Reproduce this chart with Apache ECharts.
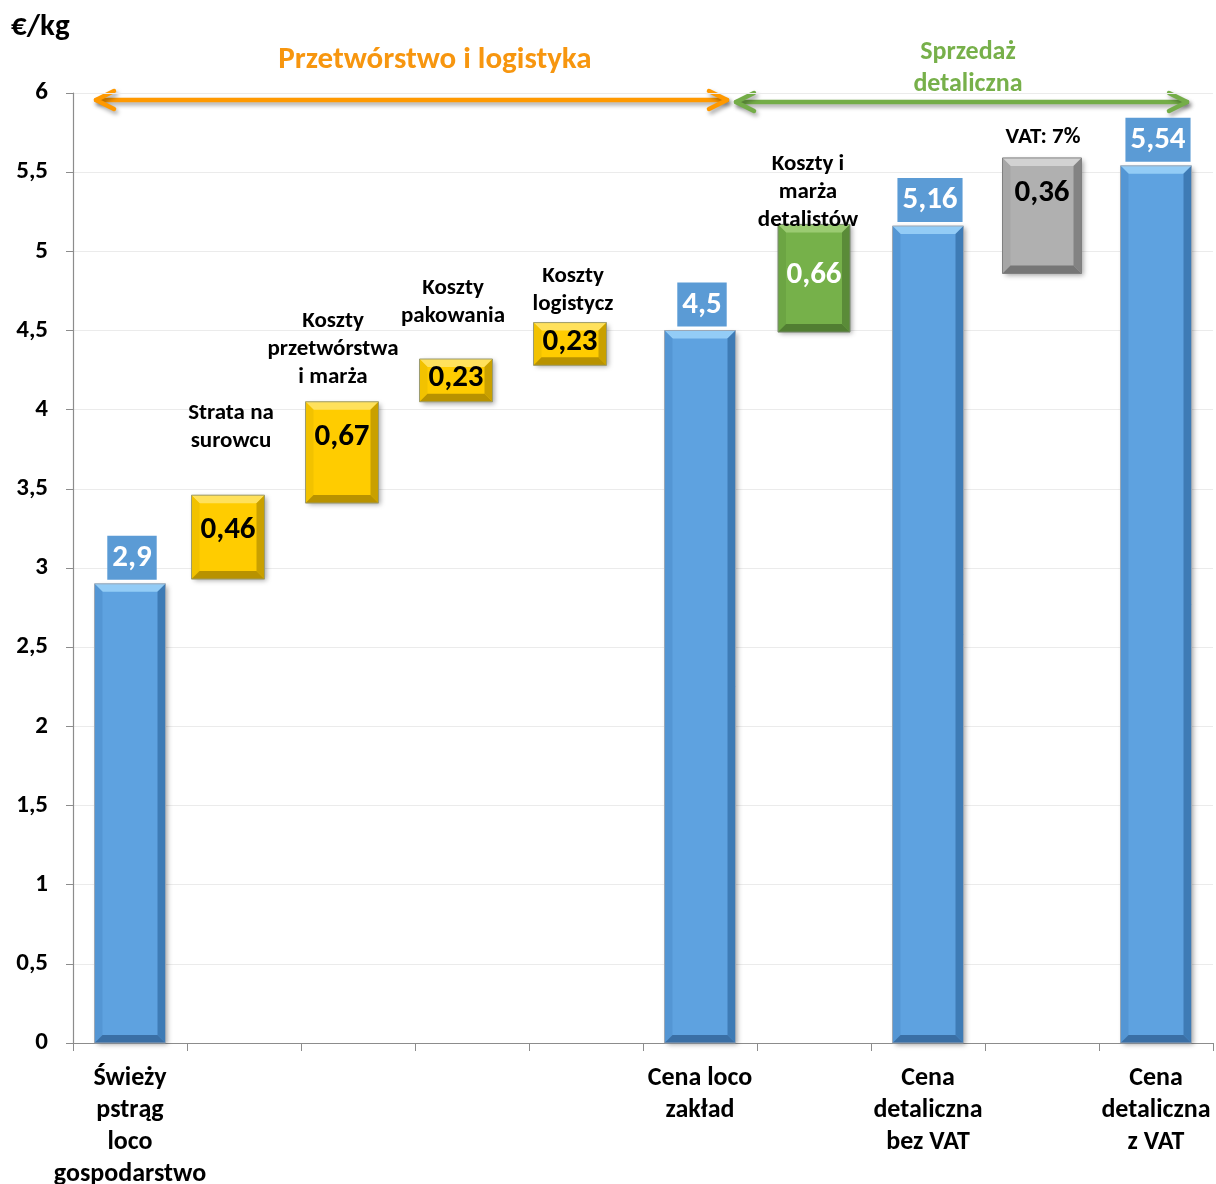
<!DOCTYPE html>
<html>
<head>
<meta charset="utf-8">
<script src="https://cdn.jsdelivr.net/npm/echarts@6/dist/echarts.min.js"></script>
<style>
html,body{margin:0;padding:0;background:#fff;}
#chart{width:1216px;height:1184px;}
</style>
</head>
<body>
<div id="chart"></div>
<script>
// ---- data ----
const categories = ['Świeży\npstrąg\nloco\ngospodarstwo', '', '', '', '', 'Cena loco\nzakład', '', 'Cena\ndetaliczna\nbez VAT', '', 'Cena\ndetaliczna\nz VAT'];
const totalIdx = [0, 5, 7, 9];
const totalValues = [2.9, 4.5, 5.16, 5.54];
const stepIdx = [1, 2, 3, 4];
const stepLabels = ['0,46', '0,67', '0,23', '0,23'];
const stepLow = [2.93, 3.41, 4.05, 4.28];
const stepHigh = [3.46, 4.05, 4.32, 4.55];
const retailIdx = [6, 8];
const retailLabels = ['0,66', '0,36'];
const retailLow = [4.49, 4.86];
const retailHigh = [5.17, 5.59];
const stepNotes = ['Strata na\nsurowcu', 'Koszty\nprzetwórstwa\ni marża', 'Koszty\npakowania', 'Koszty\nlogistycz'];
const retailNotes = ['Koszty i\nmarża\ndetalistów', 'VAT: 7%'];
const yMin = 0, yMax = 6, yStep = 0.5;

const FONT = 'Carlito, Lato, "Open Sans", sans-serif';

const palettes = {
  blue:   {face:'#5EA2E0', top:'#93CCF6', left:'#5496D4', right:'#3E7BB5', bottom:'#3A6FA5', edge:'#9AA7B5', text:'#fff'},
  yellow: {face:'#FFCC00', top:'#FFE15C', left:'#F2C200', right:'#C9A000', bottom:'#B89200', edge:'#9C9C70', text:'#000'},
  green:  {face:'#76B14A', top:'#9BCB72', left:'#6CA543', right:'#5A8B38', bottom:'#517E32', edge:'#7B8A70', text:'#fff'},
  gray:   {face:'#B0B0B0', top:'#D2D2D2', left:'#A6A6A6', right:'#838383', bottom:'#767676', edge:'#808080', text:'#000'}
};

function bevelBox(api, pal, width, bev, labelMode, labelText) {
  const i = api.value(0);
  const lo = api.value(1), hi = api.value(2);
  const pt = api.coord([i, hi]);
  const pb = api.coord([i, lo]);
  const w = width;
  const x = pt[0] - w / 2, y = pt[1], h = pb[1] - pt[1];
  const b = Math.min(bev, h / 3);
  const ch = [
    {type:'rect', shape:{x, y, width:w, height:h}, style:{fill:pal.face, shadowBlur:5, shadowOffsetX:2, shadowOffsetY:2, shadowColor:'rgba(0,0,0,0.35)'}},
    {type:'polygon', shape:{points:[[x,y],[x+w,y],[x+w-b,y+b],[x+b,y+b]]}, style:{fill:pal.top}},
    {type:'polygon', shape:{points:[[x,y],[x+b,y+b],[x+b,y+h-b],[x,y+h]]}, style:{fill:pal.left}},
    {type:'polygon', shape:{points:[[x+w,y],[x+w,y+h],[x+w-b,y+h-b],[x+w-b,y+b]]}, style:{fill:pal.right}},
    {type:'polygon', shape:{points:[[x,y+h],[x+b,y+h-b],[x+w-b,y+h-b],[x+w,y+h]]}, style:{fill:pal.bottom}},
    {type:'rect', shape:{x, y, width:w, height:h}, style:{fill:'none', stroke:pal.edge, lineWidth:1}}
  ];
  if (labelMode === 'above') {
    ch.push({type:'text', z2:10, style:{text:labelText, x:pt[0] + 2, y:y - 4, align:'center', verticalAlign:'bottom',
      fill:'#fff', font:'bold 31px ' + FONT, backgroundColor:'#5B9BD5', padding:[7, 5, 6, 5]}});
  } else {
    const ty = labelMode === 'center' ? y + h / 2 - 3 : y + Math.min(h / 2, 37) - 2;
    ch.push({type:'text', z2:10, style:{text:labelText, x:pt[0], y:ty, align:'center', verticalAlign:'middle',
      fill:pal.text, font:'bold 31px ' + FONT}});
  }
  return {type:'group', children:ch};
}

const totalData = totalIdx.map((c, k) => [c, 0, totalValues[k], String(totalValues[k]).replace('.', ',')]);
const stepData = stepIdx.map((c, k) => [c, stepLow[k], stepHigh[k], stepLabels[k]]);
const retailData = retailIdx.map((c, k) => [c, retailLow[k], retailHigh[k], retailLabels[k]]);

const chart = echarts.init(document.getElementById('chart'), null, {renderer:'canvas'});

function arrow(x1, x2, yy, color) {
  const aw = 18, ah = 9;
  const common = {stroke:color, lineWidth:4.5, fill:'none', lineCap:'round', lineJoin:'round',
    shadowBlur:4, shadowOffsetX:2, shadowOffsetY:3, shadowColor:'rgba(0,0,0,0.35)'};
  return {type:'group', children:[
    {type:'polyline', shape:{points:[[x1, yy], [x2, yy]]}, style:common},
    {type:'polyline', shape:{points:[[x1 + aw, yy - ah], [x1, yy], [x1 + aw, yy + ah]]}, style:common},
    {type:'polyline', shape:{points:[[x2 - aw, yy - ah], [x2, yy], [x2 - aw, yy + ah]]}, style:common}
  ]};
}

function note(text, cx, firstLineY) {
  return {type:'text', z:100, style:{text, x:cx, y:firstLineY - 14, align:'center', verticalAlign:'top',
    font:'bold 23px ' + FONT, lineHeight:28, fill:'#000'}};
}

const noteX = [231, 333, 453, 573];
const noteY = [413, 321, 288, 276];
const rNoteX = [808, 1043];
const rNoteY = [164, 137];

const option = {
  animation:false,
  backgroundColor:'#fff',
  textStyle:{fontFamily:FONT},
  grid:[
    {left:73, top:93, width:1140, height:950, outerBoundsMode:'none', containLabel:false},
    {left:57, top:93, width:1140, height:950, outerBoundsMode:'none', containLabel:false}
  ],
  xAxis:[
    {type:'category', gridIndex:0, data:categories, boundaryGap:true,
      axisLine:{show:true, lineStyle:{color:'#8C8C8C', width:1.2}},
      axisTick:{show:true, length:8, lineStyle:{color:'#8C8C8C'}},
      axisLabel:{interval:0, fontFamily:FONT, fontWeight:'bold', fontSize:26, lineHeight:32, color:'#000', margin:19},
      splitLine:{show:false}},
    {type:'category', gridIndex:1, data:categories, boundaryGap:true, show:false}
  ],
  yAxis:[
    {type:'value', gridIndex:0, min:yMin, max:yMax, interval:yStep,
      axisLine:{show:true, lineStyle:{color:'#8C8C8C', width:1.2}},
      axisTick:{show:true, length:7, lineStyle:{color:'#8C8C8C'}},
      axisLabel:{fontFamily:FONT, fontWeight:'bold', fontSize:25, color:'#000', margin:25,
        formatter:v => String(v).replace('.', ',')},
      splitLine:{show:true, lineStyle:{color:'#EBEBEB', width:1}}},
    {type:'value', gridIndex:1, min:yMin, max:yMax, interval:yStep, show:false, splitLine:{show:false}}
  ],
  series:[
    {type:'custom', name:'totals', xAxisIndex:0, yAxisIndex:0, data:totalData, encode:{x:0, y:[1, 2]},
      renderItem:(p, api) => bevelBox(api, palettes.blue, 71, 8, 'above', totalData[p.dataIndex][3])},
    {type:'custom', name:'steps', xAxisIndex:1, yAxisIndex:1, data:stepData, encode:{x:0, y:[1, 2]},
      renderItem:(p, api) => bevelBox(api, palettes.yellow, 73, 8, 'inside', stepData[p.dataIndex][3])},
    {type:'custom', name:'retail', xAxisIndex:0, yAxisIndex:0, data:retailData, encode:{x:0, y:[1, 2]},
      renderItem:(p, api) => bevelBox(api, p.dataIndex === 0 ? palettes.green : palettes.gray,
        p.dataIndex === 0 ? 72 : 79, 8, p.dataIndex === 0 ? 'center' : 'inside', retailData[p.dataIndex][3])}
  ],
  graphic:[
    {type:'text', z:100, style:{text:'€/kg', x:11, y:12, font:'bold 31px ' + FONT, fill:'#000'}},
    {type:'text', z:100, style:{text:'Przetwórstwo i logistyka', x:435, y:60, align:'center', verticalAlign:'middle',
      font:'bold 31px ' + FONT, fill:'#F7960F'}},
    {type:'text', z:100, style:{text:'Sprzedaż\ndetaliczna', x:968, y:52 - 16, align:'center', verticalAlign:'top',
      font:'bold 26px ' + FONT, lineHeight:32, fill:'#77B04A'}},
    Object.assign(arrow(96, 727, 100, '#FF9900'), {z:90}),
    Object.assign(arrow(736, 1187, 102, '#74AD48'), {z:90}),
    ...stepNotes.map((t, k) => note(t, noteX[k], noteY[k])),
    ...retailNotes.map((t, k) => note(t, rNoteX[k], rNoteY[k]))
  ]
};
chart.setOption(option);
</script>
</body>
</html>
